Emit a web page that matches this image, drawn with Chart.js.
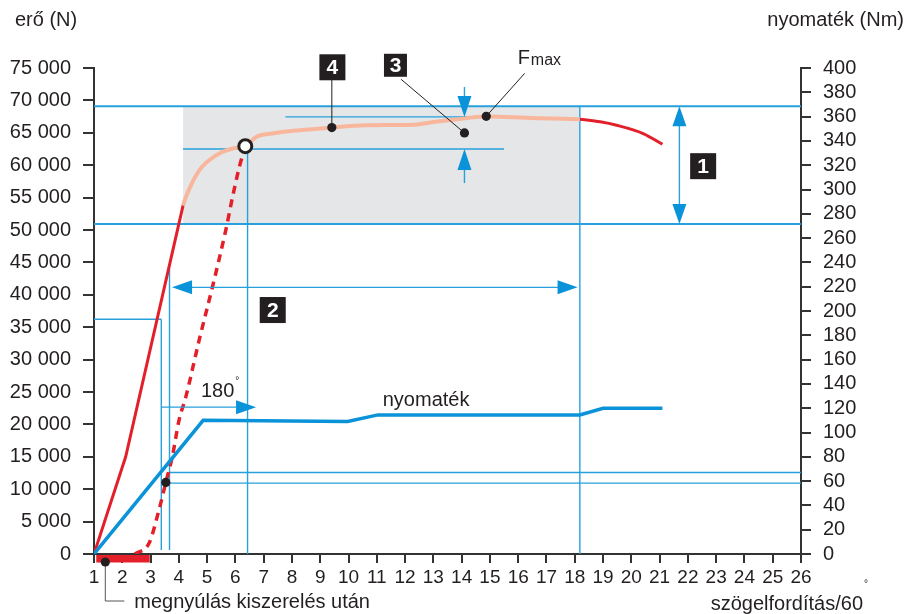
<!DOCTYPE html>
<html>
<head>
<meta charset="utf-8">
<script src="https://cdn.jsdelivr.net/npm/chart.js@4.4.1/dist/chart.umd.min.js"></script>
<style>
  html, body { margin: 0; padding: 0; background: #fff; }
  #wrap { width: 904px; height: 614px; }
</style>
</head>
<body>
<div id="wrap"><canvas id="chart" width="904" height="614"></canvas></div>
<script>
/* ── Adatok (leolvasva) ───────────────────────────── */

// erő felfutás (piros, egyenes)
const riseX = [1, 2.12, 4.15];
const riseY = [0, 15000, 53800];

// képlékeny tartomány (halvány narancs)
const plasticX = [4.15, 4.25, 4.72, 5.31, 5.9, 6.35, 6.73, 7.3, 8.26, 9.41, 10.62, 11.5, 12.3, 13.0, 13.7, 14.87, 16.4, 18.18];
const plasticY = [53800, 55100, 59200, 61500, 62570, 62930, 64360, 64900, 65400, 65810, 66150, 66200, 66250, 66650, 67000, 67500, 67300, 67100];

// lecsengés (piros)
const tailX = [18.18, 18.9, 19.48, 20.42, 21.1];
const tailY = [67100, 66700, 66170, 64890, 63240];

// szaggatott görbe
const dashX = [2.45, 2.95, 3.3, 3.54, 3.77, 4.01, 4.25, 4.72, 5.19, 5.66, 5.9, 6.14, 6.35];
const dashY = [0, 1700, 6830, 11040, 15040, 20700, 24290, 33030, 41240, 49980, 55110, 59740, 62930];

// nyomaték (jobb tengely)
const torqueX = [1, 4.86, 9.97, 11.04, 18.18, 19.0, 21.1];
const torqueY = [0, 110, 109, 114.5, 114.5, 120, 120];

// jelölő pontok
const ringPt = [6.35, 62930];
const dotX = [9.41, 14.1, 14.87, 3.54];
const dotY = [65810, 64980, 67550, 11040];

// segédvonalak
const grayBoxX = [4.15, 18.18];
const grayBoxY = [50910, 69100];
const hRefY  = [69100, 50910, 67450, 62500, 36220, 12580, 10940];
const hRefX0 = [1, 1, 7.77, 4.15, 1, 3.67, 3.54];
const hRefX1 = [26, 26, 14.9, 15.5, 3.38, 26, 26];
const vRefX  = [6.43, 18.18, 3.38, 3.67];
const vRefY0 = [0, 0, 600, 600];
const vRefY1 = [62930, 69100, 36220, 44080];

// nyilak
const arrow1 = { x: 21.7, y0: 69100, y1: 50910 };
const arrow2 = { y: 41150, x0: 3.76, x1: 18.1 };
const arrow180 = { y: 22660, x0: 3.38, x1: 6.73 };
const arrow3 = { x: 14.1, topFrom: 72070, topTo: 67450, botFrom: 57240, botTo: 62500 };

// számozott dobozok
const boxLabels = ['1', '2', '3', '4'];
const boxX = [22.54, 7.32, 11.66, 9.43];
const boxY = [59850, 37650, 75420, 75110];

const redBarX = [1.08, 2.97];

/* ── Stílus ──────────────────────────────────────── */
const INK = '#231f20';
const RED = '#e3202a';
const SALMON = '#f8b79c';
const BLUE = '#0a93d8';
const REF = '#27a0dc';
const FONT = 'Liberation Sans, Arial, Helvetica, sans-serif';

const pts = (xs, ys) => xs.map((x, i) => ({ x, y: ys[i] }));

function fmtThousands(v) {
  if (v === 0) return '0';
  return Math.floor(v / 1000) + ' 000';
}

function head(ctx, tx, ty, ang, len = 20, half = 7) {
  ctx.save();
  ctx.translate(tx, ty);
  ctx.rotate(ang);
  ctx.beginPath();
  ctx.moveTo(0, 0);
  ctx.lineTo(-len, -half);
  ctx.lineTo(-len, half);
  ctx.closePath();
  ctx.fillStyle = BLUE;
  ctx.fill();
  ctx.restore();
}

function line(ctx, x0, y0, x1, y1) {
  ctx.beginPath();
  ctx.moveTo(x0, y0);
  ctx.lineTo(x1, y1);
  ctx.stroke();
}

const overlay = {
  id: 'overlay',
  beforeDatasetsDraw(chart) {
    const { ctx, scales: { x, y } } = chart;
    ctx.save();
    // szürke tartomány
    ctx.fillStyle = '#e5e6e8';
    const bx0 = x.getPixelForValue(grayBoxX[0]), bx1 = x.getPixelForValue(grayBoxX[1]);
    const by0 = y.getPixelForValue(grayBoxY[1]), by1 = y.getPixelForValue(grayBoxY[0]);
    ctx.fillRect(bx0, by0, bx1 - bx0, by1 - by0);

    ctx.strokeStyle = REF;
    hRefY.forEach((v, i) => {
      const py = y.getPixelForValue(v);
      ctx.lineWidth = i < 2 ? 2 : 1.4;
      line(ctx, x.getPixelForValue(hRefX0[i]), py, x.getPixelForValue(hRefX1[i]), py);
    });
    ctx.lineWidth = 1.4;
    vRefX.forEach((v, i) => {
      const px = x.getPixelForValue(v);
      line(ctx, px, y.getPixelForValue(vRefY0[i]), px, y.getPixelForValue(vRefY1[i]));
    });
    ctx.restore();
  },
  afterDatasetsDraw(chart) {
    const { ctx, scales: { x, y } } = chart;
    ctx.save();
    ctx.strokeStyle = REF;
    ctx.lineWidth = 1.4;

    // 1 - függőleges kettős nyíl
    let px = x.getPixelForValue(arrow1.x);
    let p0 = y.getPixelForValue(arrow1.y0), p1 = y.getPixelForValue(arrow1.y1);
    line(ctx, px, p0 + 10, px, p1 - 10);
    head(ctx, px, p0, -Math.PI / 2);
    head(ctx, px, p1, Math.PI / 2);

    // 2 - vízszintes kettős nyíl
    let py = y.getPixelForValue(arrow2.y);
    let q0 = x.getPixelForValue(arrow2.x0), q1 = x.getPixelForValue(arrow2.x1);
    line(ctx, q0 + 10, py, q1 - 10, py);
    head(ctx, q0, py, Math.PI);
    head(ctx, q1, py, 0);

    // 180°
    py = y.getPixelForValue(arrow180.y);
    q0 = x.getPixelForValue(arrow180.x0); q1 = x.getPixelForValue(arrow180.x1);
    line(ctx, q0, py, q1 - 10, py);
    head(ctx, q1, py, 0);

    // 3 - szórás nyilak
    px = x.getPixelForValue(arrow3.x);
    line(ctx, px, y.getPixelForValue(arrow3.topFrom), px, y.getPixelForValue(arrow3.topTo) - 10);
    head(ctx, px, y.getPixelForValue(arrow3.topTo), Math.PI / 2, 21, 7);
    line(ctx, px, y.getPixelForValue(arrow3.botFrom), px, y.getPixelForValue(arrow3.botTo) + 10);
    head(ctx, px, y.getPixelForValue(arrow3.botTo), -Math.PI / 2, 21, 7);

    // mutatóvonalak
    ctx.strokeStyle = INK;
    ctx.lineWidth = 1;
    line(ctx, x.getPixelForValue(dotX[0]), y.getPixelForValue(dotY[0]), x.getPixelForValue(dotX[0]), y.getPixelForValue(boxY[3]));
    line(ctx, x.getPixelForValue(dotX[1]), y.getPixelForValue(dotY[1]), x.getPixelForValue(11.86), y.getPixelForValue(73250));
    line(ctx, x.getPixelForValue(dotX[2]), y.getPixelForValue(dotY[2]), x.getPixelForValue(16.23), y.getPixelForValue(74180));

    // számozott dobozok
    boxLabels.forEach((t, i) => {
      const cx = x.getPixelForValue(boxX[i]), cy = y.getPixelForValue(boxY[i]);
      const s = t === '3' ? 23 : 26;
      ctx.fillStyle = INK;
      ctx.fillRect(cx - s / 2, cy - s / 2, s, s);
      ctx.fillStyle = '#fff';
      ctx.font = 'bold 21px ' + FONT;
      ctx.textAlign = 'center';
      ctx.textBaseline = 'middle';
      ctx.fillText(t, cx, cy + 1);
    });

    // feliratok
    ctx.fillStyle = INK;
    ctx.textAlign = 'left';
    ctx.textBaseline = 'alphabetic';
    ctx.font = '20px ' + FONT;
    ctx.fillText('nyomaték', x.getPixelForValue(11.21), y.getPixelForValue(22870));
    ctx.fillText('180', x.getPixelForValue(4.78), y.getPixelForValue(24200));
    const w180 = ctx.measureText('180').width;
    ctx.font = '10px ' + FONT;
    ctx.fillText('°', x.getPixelForValue(4.78) + w180 + 1, y.getPixelForValue(24200) - 13);
    ctx.font = '20px ' + FONT;
    const fx = x.getPixelForValue(15.98), fy = y.getPixelForValue(75560);
    ctx.fillText('F', fx, fy);
    const wF = ctx.measureText('F').width;
    ctx.font = '16px ' + FONT;
    ctx.fillText('max', fx + wF + 1, fy + 1);
    ctx.restore();
  },
  afterDraw(chart) {
    const { ctx, scales: { x, y } } = chart;
    ctx.save();
    const base = y.getPixelForValue(0);
    // megnyúlás sáv
    ctx.fillStyle = RED;
    const r0 = x.getPixelForValue(redBarX[0]), r1 = x.getPixelForValue(redBarX[1]);
    ctx.fillRect(r0, base + 1, r1 - r0, 7.5);
    // pont + mutató
    const dx = x.getPixelForValue(1.4), dy = base + 8;
    ctx.strokeStyle = '#555';
    ctx.lineWidth = 1;
    ctx.beginPath();
    ctx.moveTo(dx, dy);
    ctx.lineTo(dx, 601);
    ctx.lineTo(dx + 19, 601);
    ctx.stroke();
    ctx.fillStyle = INK;
    ctx.beginPath();
    ctx.arc(dx, dy, 4.6, 0, Math.PI * 2);
    ctx.fill();

    ctx.font = '20px ' + FONT;
    ctx.textBaseline = 'middle';
    ctx.textAlign = 'left';
    ctx.fillText('megnyúlás kiszerelés után', dx + 29, 602);
    ctx.textAlign = 'right';
    ctx.fillText('szögelfordítás/60', 863, 604);
    ctx.font = '10px ' + FONT;
    ctx.textAlign = 'left';
    ctx.fillText('°', 864, 584);

    // tengelycímek
    ctx.font = '20px ' + FONT;
    ctx.textAlign = 'left';
    ctx.fillText('erő (N)', 15, 20);
    ctx.textAlign = 'right';
    ctx.fillText('nyomaték (Nm)', 904, 20);
    ctx.restore();
  }
};

const axisGrid = (len) => ({
  drawOnChartArea: false,
  drawTicks: true,
  tickLength: len,
  color: '#333',
  lineWidth: 2
});
const yFont = { family: FONT, size: 20 };
const xFont = { family: FONT, size: 19 };

new Chart(document.getElementById('chart'), {
  type: 'line',
  data: {
    datasets: [
      { data: pts([ringPt[0]], [ringPt[1]]), showLine: false, pointRadius: 6.5,
        pointBackgroundColor: '#fff', pointBorderColor: INK, pointBorderWidth: 3 },
      { data: pts(dotX, dotY), showLine: false, pointRadius: 4.6,
        pointBackgroundColor: INK, pointBorderColor: INK, pointBorderWidth: 0 },
      { data: pts(torqueX, torqueY), yAxisID: 'y2', borderColor: BLUE, borderWidth: 3.5,
        pointRadius: 0, tension: 0 },
      { data: pts(plasticX, plasticY), borderColor: SALMON, borderWidth: 4,
        pointRadius: 0, cubicInterpolationMode: 'monotone' },
      { data: pts(tailX, tailY), borderColor: RED, borderWidth: 3,
        pointRadius: 0, cubicInterpolationMode: 'monotone' },
      { data: pts(riseX, riseY), borderColor: RED, borderWidth: 3,
        pointRadius: 0, tension: 0 },
      { data: pts(dashX, dashY), borderColor: RED, borderWidth: 3.5, borderDash: [8, 6],
        pointRadius: 0, cubicInterpolationMode: 'monotone' }
    ]
  },
  options: {
    responsive: false,
    devicePixelRatio: 1,
    animation: false,
    layout: { padding: { top: 68, left: 0, right: 0, bottom: 0 } },
    plugins: { legend: { display: false }, tooltip: { enabled: false } },
    scales: {
      x: {
        type: 'linear', min: 1, max: 26,
        ticks: { stepSize: 1, color: INK, font: xFont, padding: 3, maxRotation: 0, autoSkip: false },
        grid: axisGrid(9),
        border: { color: '#333', width: 2 },
        afterFit: s => { s.height = 60; }
      },
      y: {
        position: 'left', min: 0, max: 75000,
        ticks: { stepSize: 5000, color: INK, font: yFont, padding: 12, autoSkip: false,
                 callback: v => fmtThousands(v) },
        grid: axisGrid(11),
        border: { color: '#333', width: 2 },
        afterFit: s => { s.width = 94; }
      },
      y2: {
        position: 'right', min: 0, max: 400,
        ticks: { stepSize: 20, color: INK, font: yFont, padding: 12, autoSkip: false },
        grid: axisGrid(10),
        border: { color: '#333', width: 2 },
        afterFit: s => { s.width = 103; }
      }
    }
  },
  plugins: [overlay]
});
</script>
</body>
</html>
